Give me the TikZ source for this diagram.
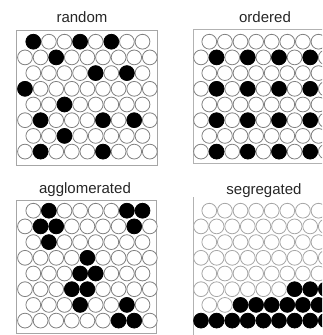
\documentclass[tikz,border=0pt]{standalone}
\usepackage{fontspec}
\setmainfont{Liberation Sans}

\begin{document}
\begin{tikzpicture}[
  x=1pt, y=-1pt,
  font=\fontsize{15}{18}\selectfont,
  ball/.style={draw=#1, line width=0.8pt, fill=white},
  dark/.style={draw=black, line width=0.7pt, fill=black},
  frame/.style={draw=gray!#1, line width=0.8pt},
  title/.style={anchor=base, text=black!85, inner sep=0pt}
]
  \useasboundingbox (0,0) rectangle (322,335);
  \clip (0,0) rectangle (322,335);

  \node[title] (random) at (82,22) {random};
  \node[title] (ordered) at (265,22) {ordered};
  \node[title] (agglomerated) at (85,193) {agglomerated};
  \node[title] (segregated) at (264,194) {segregated};

  \draw[frame=70] (16,30) rectangle (157,165);
  \draw[frame=60] (193,29) rectangle (336,163);
  \draw[frame=70] (16,200) rectangle (156,333);
  \draw[frame=60] (193,197) -- (193,335);

  \foreach \xo/\yo/\edge in {25/41.7/black!50, 201/41.7/black!50, 25/210.7/black!50, 201/210.7/black!35} {
    \foreach \k in {0,...,7} {
      \pgfmathtruncatemacro{\last}{mod(\k,2)==0 ? 7 : 8}
      \foreach \i in {0,...,\last}
        \draw[ball=\edge] ({\xo+15.6*\i+8.3*(1-mod(\k,2))}, {\yo+15.7*\k}) circle[radius=7.4pt];
    }
  }

  % random
  \foreach \k/\i in {0/0,0/3,0/5,1/2,2/4,2/6,3/0,4/2,5/1,5/5,5/7,6/2,7/1,7/5}
    \fill[dark] ({25+15.6*\i+8.3*(1-mod(\k,2))}, {41.7+15.7*\k}) circle[radius=7.4pt];
  % ordered
  \foreach \k in {1,3,5,7}
    \foreach \i in {1,3,5,7}
      \fill[dark] ({201+15.6*\i}, {41.7+15.7*\k}) circle[radius=7.4pt];
  % agglomerated
  \foreach \k/\i in {0/1,0/6,0/7,1/1,1/2,1/7,2/1,3/4,4/3,4/4,5/3,5/4,6/3,6/6,7/6,7/7}
    \fill[dark] ({25+15.6*\i+8.3*(1-mod(\k,2))}, {210.7+15.7*\k}) circle[radius=7.4pt];
  % segregated
  \foreach \k/\i in {5/6,5/7,5/8,6/2,6/3,6/4,6/5,6/6,6/7,7/0,7/1,7/2,7/3,7/4,7/5,7/6,7/7,7/8}
    \fill[dark] ({201+15.6*\i+8.3*(1-mod(\k,2))}, {210.7+15.7*\k}) circle[radius=7.4pt];
\end{tikzpicture}
\end{document}
